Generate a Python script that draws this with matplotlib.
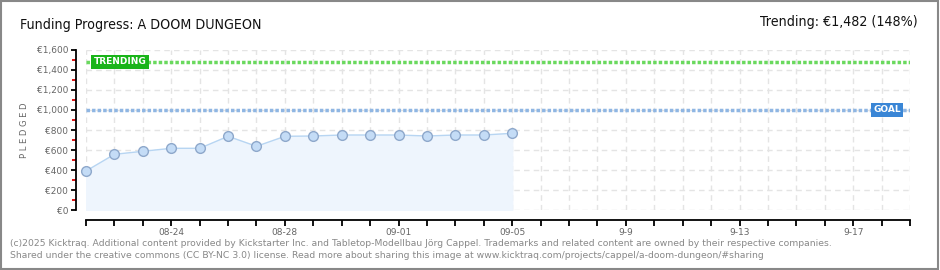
import matplotlib
matplotlib.use('Agg')
import matplotlib.pyplot as plt
from matplotlib.patches import Rectangle

# funding data (days since 08-21)
days = list(range(16))
pledged = [390, 557, 587, 617, 617, 737, 637, 737, 740, 750, 750, 750, 740, 750, 750, 767]
goal = 1000
trending = 1482
n_days = 29

label_days = [3, 7, 11, 15, 19, 23, 27]
label_text = ['08-24', '08-28', '09-01', '09-05', '9-9', '9-13', '9-17']
y_ticks = [0, 200, 400, 600, 800, 1000, 1200, 1400, 1600]

plt.rcParams['font.family'] = ['DejaVu Sans']

fig = plt.figure(figsize=(9.4, 2.7), dpi=100)
ax = fig.add_axes([86 / 940, 1 - 210 / 270, 824 / 940, 160 / 270])

ax.set_xlim(0, n_days)
ax.set_ylim(0, 1600)

# grid
ax.set_xticks(range(0, n_days + 1))
ax.set_xticklabels([label_text[label_days.index(d)] if d in label_days else '' for d in range(0, n_days + 1)])
ax.set_yticks(y_ticks)
ax.set_yticklabels(['€{:,}'.format(v) for v in y_ticks])
ax.set_yticks([v + 100 for v in y_ticks[:-1]], minor=True)
ax.grid(True, color='#e4e4e4', linestyle=(0, (4, 3)), linewidth=1)
ax.set_axisbelow(True)

# goal / trending lines
ax.axhline(goal, color='#8fb6e3', linewidth=2.5, linestyle=(0, (1, 0.6)), zorder=2)
ax.axhline(trending, color='#6ad95e', linewidth=2.5, linestyle=(0, (1, 0.6)), zorder=2)

ax.text(1.2, trending, 'TRENDING', color='white', fontsize=6.5, fontweight='bold',
        ha='center', va='center', zorder=5,
        bbox=dict(boxstyle='square,pad=0.25', fc='#19b419', ec='none'))
ax.text(28.2, goal, 'GOAL', color='white', fontsize=6.5, fontweight='bold',
        ha='center', va='center', zorder=5,
        bbox=dict(boxstyle='square,pad=0.25', fc='#3a86d6', ec='none'))

# pledged series
ax.fill_between(days, pledged, 0, color='#eef5fd', zorder=1)
ax.plot(days, pledged, color='#b7d5f2', linewidth=1, marker='o', markersize=7,
        markerfacecolor='#c4dcf6', markeredgecolor='#8ea8cb', markeredgewidth=1, zorder=4, clip_on=False)

# spines
for s in ['top', 'right']:
    ax.spines[s].set_visible(False)
ax.spines['left'].set_position(('outward', 7.2))
ax.spines['bottom'].set_position(('outward', 7.2))
ax.spines['left'].set_linewidth(1.3)
ax.spines['bottom'].set_linewidth(1.3)

ax.tick_params(axis='x', which='major', direction='out', length=4, width=1.3, color='black',
               labelsize=6.5, labelcolor='#666666', pad=2)
ax.tick_params(axis='y', which='major', direction='out', length=3.5, width=1.3, color='black',
               labelsize=6.5, labelcolor='#666666', pad=2)
ax.tick_params(axis='y', which='minor', direction='out', length=3, width=1.3, color='#dd0000')

ax.set_ylabel('P L E D G E D', fontsize=6, color='#666666', labelpad=6)

# titles
fig.text(20 / 940, 1 - 25 / 270, 'Funding Progress: A DOOM DUNGEON', fontsize=10.2,
         fontstretch='condensed', color='#111111', ha='left', va='center')
fig.text(918 / 940, 1 - 22 / 270, 'Trending: €1,482 (148%)', fontsize=10.2,
         fontstretch='condensed', color='#111111', ha='right', va='center')

# footer
fig.text(10 / 940, 1 - 243 / 270,
         '(c)2025 Kicktraq. Additional content provided by Kickstarter Inc. and Tabletop-Modellbau Jörg Cappel. '
         'Trademarks and related content are owned by their respective companies.',
         fontsize=6.7, color='#888888', ha='left', va='center')
fig.text(10 / 940, 1 - 255 / 270,
         'Shared under the creative commons (CC BY-NC 3.0) license. Read more about sharing this image at '
         'www.kicktraq.com/projects/cappel/a-doom-dungeon/#sharing',
         fontsize=6.7, color='#888888', ha='left', va='center')

# border
fig.patches.append(Rectangle((0.001, 0.002), 0.997, 0.995, transform=fig.transFigure,
                             fill=False, edgecolor='#888888', linewidth=1.5))

fig.savefig('out.png', dpi=100)
